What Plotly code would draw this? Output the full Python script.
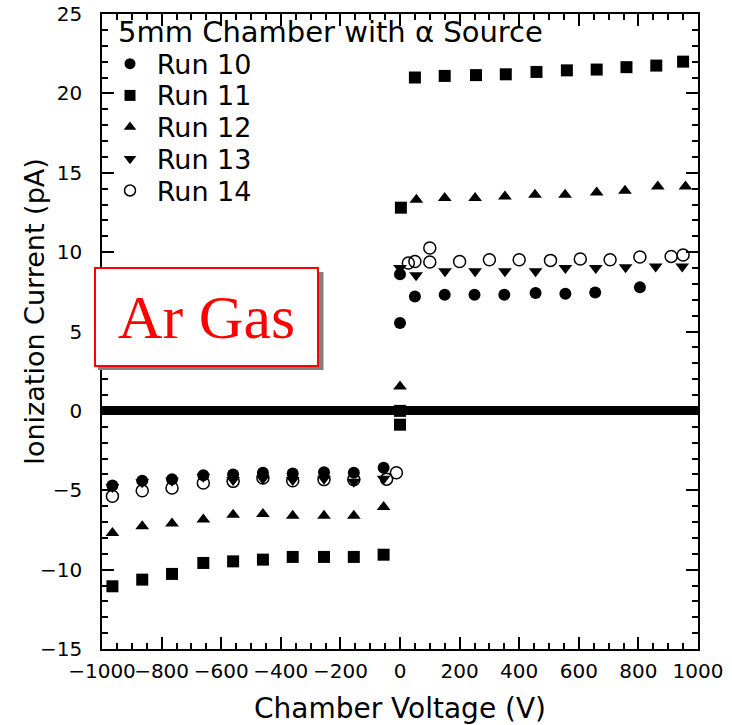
import plotly.graph_objects as go

# ---- data ----
run10_v = [-965, -865, -765, -660, -560, -460, -360, -255, -155, -55, 0, 0,
           50, 150, 250, 350, 455, 555, 655, 805]
run10_i = [-4.7, -4.4, -4.3, -4.05, -4.0, -3.9, -3.95, -3.86, -3.9, -3.58, 5.54, 8.6,
           7.21, 7.32, 7.32, 7.32, 7.42, 7.38, 7.46, 7.78]

run11_v = [-965, -865, -765, -660, -560, -460, -360, -255, -155, -55, 0, 0, 3,
           50, 150, 255, 355, 458, 560, 660, 760, 860, 950]
run11_i = [-11.05, -10.63, -10.27, -9.58, -9.48, -9.37, -9.2, -9.2, -9.2, -9.06, -0.87, 0.0, 12.8,
           21.0, 21.1, 21.15, 21.2, 21.35, 21.45, 21.5, 21.65, 21.75, 22.0]

run12_v = [-965, -865, -765, -660, -560, -460, -360, -255, -155, -55, 0,
           55, 150, 252, 352, 453, 554, 660, 755, 865, 958]
run12_i = [-7.69, -7.27, -7.1, -6.85, -6.54, -6.49, -6.6, -6.6, -6.6, -6.05, 1.54,
           13.3, 13.41, 13.41, 13.51, 13.61, 13.61, 13.76, 13.87, 14.14, 14.14]

run13_v = [-965, -865, -765, -660, -560, -460, -360, -255, -155, -55, 0,
           54, 151, 252, 352, 455, 555, 657, 757, 858, 947]
run13_i = [-4.8, -4.5, -4.4, -4.15, -4.35, -4.27, -4.35, -4.27, -4.46, -4.27, 9.0,
           8.55, 8.8, 8.8, 8.8, 8.8, 9.0, 9.0, 9.05, 9.1, 9.1]

run14_v = [-965, -865, -765, -660, -560, -460, -360, -255, -155, -45, -12,
           28, 50, 100, 100, 200, 300, 400, 505, 605, 705, 805, 910, 950]
run14_i = [-5.38, -5.03, -4.86, -4.54, -4.44, -4.23, -4.4, -4.33, -4.33, -4.3, -3.9,
           9.31, 9.41, 10.26, 9.38, 9.41, 9.52, 9.52, 9.48, 9.57, 9.52, 9.69, 9.73, 9.82]

run_names = ["Run 10", "Run 11", "Run 12", "Run 13", "Run 14"]
run_symbols = ["circle", "square", "triangle-up", "triangle-down", "circle-open"]

legend_title = "5mm Chamber with α Source"
x_title = "Chamber Voltage (V)"
y_title = "Ionization Current (pA)"
box_text = "Ar Gas"

FONT = "DejaVu Sans"

L, R, T, B = 102, 34, 14, 76
W, H = 732, 725
pw = W - L - R
ph = H - T - B


def px(xp):
    return (xp - L) / pw


def py(yp):
    return (H - B - yp) / ph


fig = go.Figure()
runs = [(run10_v, run10_i), (run11_v, run11_i), (run12_v, run12_i),
        (run13_v, run13_i), (run14_v, run14_i)]
for name, sym, (v, i) in zip(run_names, run_symbols, runs):
    is_open = sym.endswith("open")
    fig.add_trace(go.Scatter(
        x=v, y=i, mode="markers", name=name, showlegend=False,
        marker=dict(symbol=sym, size=12, color="black",
                    line=dict(color="black", width=1.5 if is_open else 0)),
    ))

# ---- key drawn inside the frame ----
LINE_H = 31.7                 # key line spacing in px
BASE_FS = LINE_H / 1.3        # plotly line spacing = 1.3 * font size
TITLE_Y = 32.0                # centre of the key title line (px from top)
key_rows_px = [TITLE_Y + LINE_H * (k + 1) for k in range(len(run_names))]

# key symbols on an overlay axis spanning the frame (0..1)
for k, (name, sym) in enumerate(zip(run_names, run_symbols)):
    is_open = sym.endswith("open")
    fig.add_trace(go.Scatter(
        x=[px(130)], y=[py(key_rows_px[k])], xaxis="x2", yaxis="y2", mode="markers",
        name=name, showlegend=False, hoverinfo="skip",
        marker=dict(symbol=sym, size=11, color="black",
                    line=dict(color="black", width=1.5 if is_open else 0)),
    ))

indent = "&nbsp;" * 5
key_lines = [f'<span style="font-size:29px">{legend_title}</span>']
key_lines += [f'{indent}<span style="font-size:27px">{n}</span>' for n in run_names]
block_center = TITLE_Y + LINE_H * len(run_names) / 2
fig.add_annotation(text="<br>".join(key_lines), xref="paper", yref="paper",
                   x=px(116), y=py(block_center), xanchor="left", yanchor="middle",
                   align="left", showarrow=False,
                   font=dict(family=FONT, size=BASE_FS, color="black"))

axis_common = dict(
    showline=True, linecolor="black", linewidth=1.5, mirror="ticks",
    ticks="inside", ticklen=12, tickwidth=1.5, tickcolor="black",
    showgrid=False, automargin=False, tickangle=0,
    tickfont=dict(family=FONT, size=20, color="black"),
)

fig.update_layout(
    width=W, height=H,
    margin=dict(l=L, r=R, t=T, b=B),
    paper_bgcolor="white", plot_bgcolor="white",
    font=dict(family=FONT, color="black"),
    showlegend=False,
    xaxis=dict(
        range=[-1000, 1000], dtick=200, tick0=0, zeroline=False,
        minor=dict(ticks="inside", ticklen=6, tickwidth=1.5, dtick=50, tickcolor="black", showgrid=False),
        ticklabelstandoff=3,
        title=dict(text=x_title, font=dict(family=FONT, size=28, color="black"), standoff=18),
        **axis_common,
    ),
    yaxis=dict(
        range=[-15, 25], dtick=5, tick0=0,
        zeroline=True, zerolinecolor="black", zerolinewidth=9,
        minor=dict(ticks="inside", ticklen=6, tickwidth=1.5, dtick=1, tickcolor="black", showgrid=False),
        ticklabelstandoff=14,
        **axis_common,
    ),
    xaxis2=dict(range=[0, 1], overlaying="x", visible=False, fixedrange=True),
    yaxis2=dict(range=[0, 1], overlaying="y", visible=False, fixedrange=True),
)

# y-axis title as a rotated annotation
fig.add_annotation(
    text=y_title, xref="paper", yref="paper", x=px(34), y=py(312),
    xanchor="center", yanchor="middle", textangle=-90, showarrow=False,
    font=dict(family=FONT, size=27, color="black"),
)

# shadow of the "Ar Gas" box
fig.add_shape(type="rect", xref="paper", yref="paper",
              x0=px(98), x1=px(323.5), y0=py(370), y1=py(272),
              fillcolor="#808080", line=dict(width=0), layer="above")

fig.add_annotation(
    text=box_text, xref="paper", yref="paper", x=px(94), y=py(267.3),
    xanchor="left", yanchor="top", showarrow=False,
    width=221, height=96, bgcolor="white", bordercolor="red", borderwidth=2, borderpad=0,
    font=dict(family="Liberation Serif", size=62, color="red"),
)

fig.write_html("out.html")
